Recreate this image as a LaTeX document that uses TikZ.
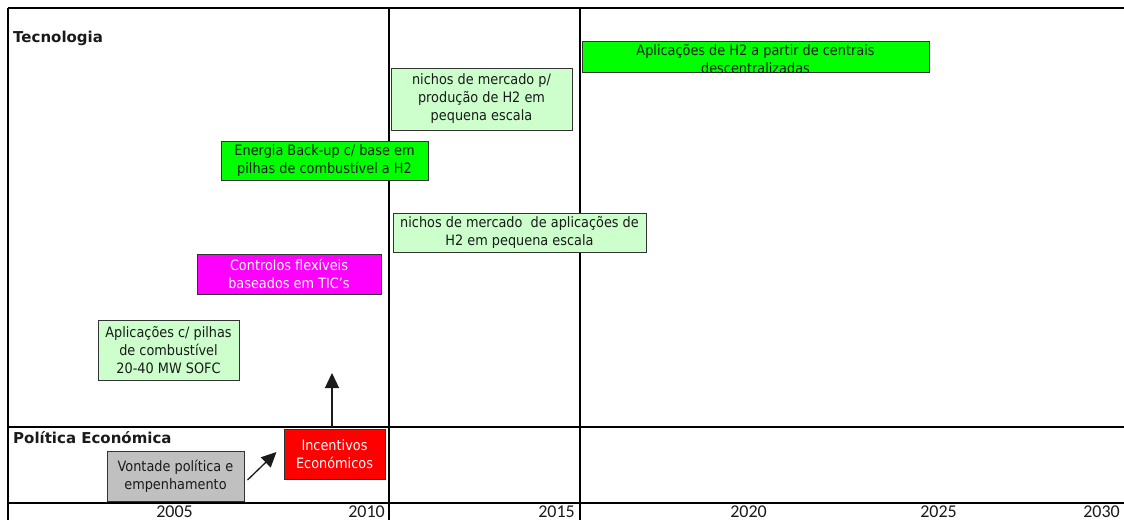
\documentclass[tikz,border=0pt]{standalone}
\usepackage{fontspec}
\setmainfont{DejaVu Sans}[FakeStretch=0.9]
\newfontfamily\headfont{DejaVu Sans}
\newfontfamily\yearfont{Carlito}
\usetikzlibrary{arrows.meta,calc}

\definecolor{hgreen}{HTML}{00FF00}
\definecolor{lgreen}{HTML}{CCFFCC}
\definecolor{hmagenta}{HTML}{FF00FF}
\definecolor{hred}{HTML}{FF0000}
\definecolor{hgray}{HTML}{C0C0C0}
\definecolor{boxline}{HTML}{333333}
\definecolor{txt}{HTML}{1A1A1A}

\tikzset{
  box/.style={draw=boxline, line width=1pt, inner sep=0pt, align=center, text=txt,
    font=\fontsize{14.3}{18}\selectfont},
  greenbox/.style={box, fill=hgreen},
  lightbox/.style={box, fill=lgreen},
  magbox/.style={box, fill=hmagenta, text=white},
  redbox/.style={box, fill=hred, text=white},
  graybox/.style={box, fill=hgray},
  rowlabel/.style={anchor=west, inner sep=0pt, text=txt, font=\headfont\bfseries\fontsize{15}{17}\selectfont},
  yearlabel/.style={anchor=base east, inner sep=0pt, text=txt, font=\yearfont\fontsize{18}{20}\selectfont},
  gridline/.style={line width=1.2pt, black},
  axisline/.style={line width=2.6pt, black},
  pushes/.style={line width=1.3pt, txt, -{Triangle[width=14pt,length=15pt]}}
}

\begin{document}
\begin{tikzpicture}[x=1pt, y=-1pt]
\useasboundingbox (0,0) rectangle (1124,520);
\fill[white] (0,0) rectangle (1124,520);

% grid of the two rows and the five-year columns
\draw[gridline] (8,8) -- (1124,8);
\draw[gridline] (8,8) -- (8,520);
\draw[gridline] (389,8) -- (389,520);
\draw[gridline] (580,8) -- (580,520);
\draw[gridline] (8,427) -- (1124,427);
\draw[axisline] (8,503) -- (1124,503);

% row titles
\node[rowlabel] (tec) at (13,38.5) {Tecnologia};
\node[rowlabel] (pol) at (13,438) {Política Económica};

% years along the axis
\node[yearlabel] (y2005) at (193,517.5) {2005};
\node[yearlabel] (y2010) at (385,517.5) {2010};
\node[yearlabel] (y2015) at (575,517.5) {2015};
\node[yearlabel] (y2020) at (767,517.5) {2020};
\node[yearlabel] (y2025) at (957,517.5) {2025};
\node[yearlabel] (y2030) at (1120,517.5) {2030};

% technology row
\node[greenbox, minimum width=347pt, minimum height=31pt] (centrais) at (755.5,56.5) {};
\begin{scope}
  \clip (582,41) rectangle (929,72);
  \node[box, draw=none] (centraistxt) at (755.5,59.5) {Aplicações de H2 a partir de centrais\\descentralizadas};
\end{scope}

\node[lightbox, minimum width=181pt, minimum height=62pt] (nichosprod) at (481.5,99)
  {nichos de mercado p/\\produção de H2 em\\pequena escala};
\node[greenbox, minimum width=207pt, minimum height=39pt] (backup) at (324.5,160.5)
  {Energia Back-up c/ base em\\pilhas de combustível a H2};
\node[lightbox, minimum width=253pt, minimum height=39pt] (nichosapl) at (519.5,232.5)
  {nichos de mercado\ \ de aplicações de\\H2 em pequena escala};
\node[magbox, minimum width=184pt, minimum height=40pt] (tic) at (289,274)
  {Controlos flexíveis\\baseados em TIC's};
\node[lightbox, minimum width=141pt, minimum height=60pt] (sofc) at (168.5,350)
  {Aplicações c/ pilhas\\de combustível\\20-40 MW SOFC};

% economic policy row
\node[redbox, minimum width=101pt, minimum height=50pt] (incent) at (334.5,454)
  {Incentivos\\Económicos};
\node[graybox, minimum width=137pt, minimum height=50pt] (vontade) at (175.5,476)
  {Vontade política e\\empenhamento};

% influences
\coordinate (techrow) at (332,373);
\draw[pushes] ($(vontade.east)+(3,4)$) -- ($(incent.west)+(-7,-2)$);
\draw[pushes] ($(incent.north)+(-2.5,-2)$) -- (techrow);
\end{tikzpicture}
\end{document}
